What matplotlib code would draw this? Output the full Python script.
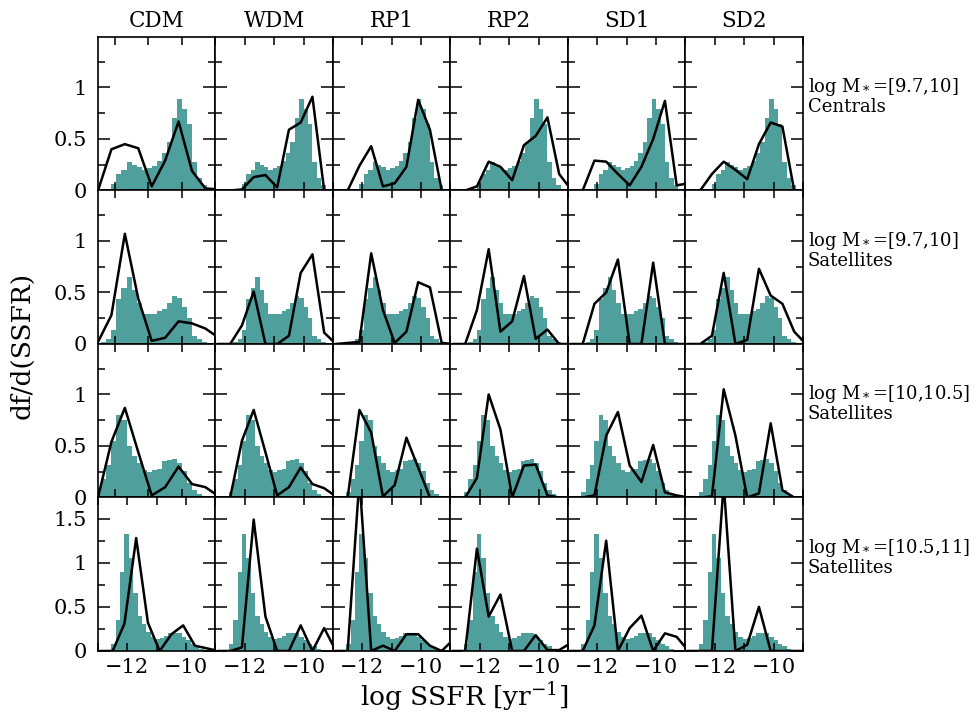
import numpy as np
import matplotlib
matplotlib.use('Agg')
import matplotlib.pyplot as plt
from matplotlib.ticker import MultipleLocator, FuncFormatter

plt.rcParams['font.family'] = 'DejaVu Serif'
plt.rcParams['mathtext.fontset'] = 'dejavuserif'

models = ['CDM', 'WDM', 'RP1', 'RP2', 'SD1', 'SD2']
row_labels = ['log M$_*$=[9.7,10]\nCentrals',
              'log M$_*$=[9.7,10]\nSatellites',
              'log M$_*$=[10,10.5]\nSatellites',
              'log M$_*$=[10.5,11]\nSatellites']

# observed SSFR distribution (teal histogram), bins of 0.15 dex from -13
bin_start = -13.0
bin_width = 0.15
obs_cen_97 = [0, 0, 0, 0, 0, 0, 0.06, 0.16, 0.20, 0.28, 0.25, 0.23, 0.20,
              0.22, 0.24, 0.29, 0.36, 0.47, 0.70, 0.89, 0.79, 0.65, 0.28,
              0.12, 0.05, 0]
obs_sat_97 = [0, 0, 0, 0, 0.02, 0.05, 0.14, 0.44, 0.54, 0.65, 0.52, 0.40,
              0.29, 0.29, 0.29, 0.32, 0.34, 0.40, 0.47, 0.45, 0.36, 0.25,
              0.08, 0.05, 0.02, 0]
obs_sat_10 = [0, 0, 0, 0.05, 0.18, 0.32, 0.55, 0.80, 0.75, 0.50, 0.40, 0.33,
              0.27, 0.25, 0.27, 0.28, 0.35, 0.36, 0.37, 0.33, 0.26, 0.14,
              0.07, 0.03, 0, 0]
obs_sat_105 = [0, 0, 0, 0.08, 0.35, 0.90, 1.33, 1.05, 0.66, 0.40, 0.31, 0.22,
               0.16, 0.14, 0.15, 0.17, 0.20, 0.20, 0.20, 0.16, 0.13, 0.08,
               0.06, 0.02, 0, 0]
obs_rows = [obs_cen_97, obs_sat_97, obs_sat_10, obs_sat_105]

# model curves, sampled every 0.4 dex
line_x = [-12.9, -12.5, -12.1, -11.7, -11.3, -10.9, -10.5, -10.1, -9.7, -9.3, -8.9]
cdm = [[0, 0, 0.40, 0.45, 0.41, 0.04, 0.29, 0.67, 0.19, 0.02, 0.01],
       [0, 0.02, 0.28, 1.07, 0.44, 0.03, 0.06, 0.22, 0.20, 0.15, 0.06],
       [0, 0, 0.54, 0.87, 0.44, 0.02, 0.10, 0.30, 0.13, 0.10, 0.01],
       [0, 0, 0.31, 1.28, 0.32, 0, 0.19, 0.29, 0.06, 0.03, 0]]
wdm = [[0, 0, 0.01, 0.13, 0.15, 0.03, 0.59, 0.66, 0.91, 0, 0],
       [0, 0, 0.18, 0.51, 0, 0, 0.08, 0.69, 0.87, 0.11, 0],
       [0, 0, 0.55, 0.85, 0.44, 0.02, 0.10, 0.29, 0.13, 0.09, 0.01],
       [0, 0, 0.04, 1.49, 0.39, 0, 0, 0.29, 0, 0.26, 0]]
rp1 = [[0, 0, 0.24, 0.43, 0.04, 0.07, 0.23, 0.88, 0.59, 0, 0],
       [0, 0.01, 0.02, 0.88, 0.33, 0.01, 0.12, 0.60, 0.55, 0.01, 0],
       [0, 0, 0.85, 0.63, 0.01, 0.12, 0.58, 0.29, 0, 0, 0],
       [0, 0, 1.95, 0, 0.06, 0, 0.19, 0.19, 0.06, 0, 0.13]]
rp2 = [[0, 0, 0.04, 0.28, 0.23, 0.10, 0.44, 0.53, 0.71, 0.16, 0.01],
       [0, 0, 0.33, 0.92, 0.12, 0.22, 0.66, 0.05, 0.14, 0, 0],
       [0, 0, 0.19, 1.00, 0.66, 0, 0.31, 0.32, 0.02, 0, 0],
       [0, 0, 1.16, 0.39, 0.64, 0, 0, 0.18, 0.01, 0.01, 0.09]]
sd1 = [[0, 0, 0.29, 0.28, 0.16, 0.05, 0.23, 0.50, 0.87, 0.05, 0.07],
       [0, 0, 0.39, 0.50, 0.82, 0, 0, 0.79, 0, 0, 0],
       [0, 0, 0.02, 0.60, 0.83, 0.31, 0.15, 0.51, 0.05, 0.02, 0],
       [0, 0, 0.29, 1.25, 0, 0.26, 0.40, 0, 0.20, 0.16, 0]]
sd2 = [[0, 0, 0.16, 0.28, 0.20, 0.11, 0.45, 0.66, 0.62, 0, 0],
       [0, 0, 0.08, 0.69, 0, 0.04, 0.73, 0.47, 0.39, 0.12, 0],
       [0, 0, 0.01, 1.05, 0.60, 0, 0.04, 0.72, 0.07, 0, 0],
       [0, 0, 0, 1.90, 0, 0.07, 0.50, 0, 0, 0, 0]]
model_lines = [cdm, wdm, rp1, rp2, sd1, sd2]

teal = '#4f9f9d'
fmt = FuncFormatter(lambda v, p: f'{v:g}'.replace('-', '\u2212'))

fig, axes = plt.subplots(4, 6, figsize=(9.77, 7.13), dpi=100)
fig.subplots_adjust(left=0.1003, right=0.8219, top=0.9481, bottom=0.087,
                    wspace=0, hspace=0)

for i in range(4):
    h = obs_rows[i]
    edges = bin_start + bin_width * np.arange(len(h) + 1)
    for j in range(6):
        ax = axes[i, j]
        ax.stairs(h, edges, fill=True, color=teal, lw=0)
        ax.plot(line_x, model_lines[j][i], color='k', lw=1.8)

        # the CDM panels of the upper three rows use a narrower range
        if j == 0 and i < 3:
            ax.set_xlim(-12.5, -9.0)
        else:
            ax.set_xlim(-13, -9)
        ax.set_ylim(0, 1.74 if i == 3 else 1.49)

        ax.xaxis.set_major_locator(MultipleLocator(2))
        ax.xaxis.set_minor_locator(MultipleLocator(1))
        ax.yaxis.set_major_locator(MultipleLocator(0.5))
        ax.yaxis.set_minor_locator(MultipleLocator(0.25))
        ax.xaxis.set_major_formatter(fmt)
        ax.yaxis.set_major_formatter(fmt)
        ax.tick_params(which='both', direction='in', top=True, right=True,
                       width=1.1, labelsize=15)
        ax.tick_params(axis='y', which='major', length=8.5, pad=8)
        ax.tick_params(axis='y', which='minor', length=5)
        ax.tick_params(axis='x', which='both', length=5.5, pad=5)
        ax.tick_params(labelbottom=(i == 3), labelleft=(j == 0))
        for s in ax.spines.values():
            s.set_linewidth(1.2)

        if i == 0:
            ax.text(0.5, 1.065, models[j], transform=ax.transAxes,
                    ha='center', va='baseline', fontsize=15.5)

    axes[i, 5].text(1.04, 0.615, row_labels[i], transform=axes[i, 5].transAxes,
                    ha='left', va='center', fontsize=13, linespacing=1.0)

fig.text(0.0225, 1 - 345 / 713, 'df/d(SSFR)', rotation=90,
         ha='center', va='center', fontsize=19)
fig.text(0.475, 0.0225, 'log SSFR [yr$^{-1}$]', ha='center', va='center',
         fontsize=19)

fig.savefig('out.png', dpi=100)
